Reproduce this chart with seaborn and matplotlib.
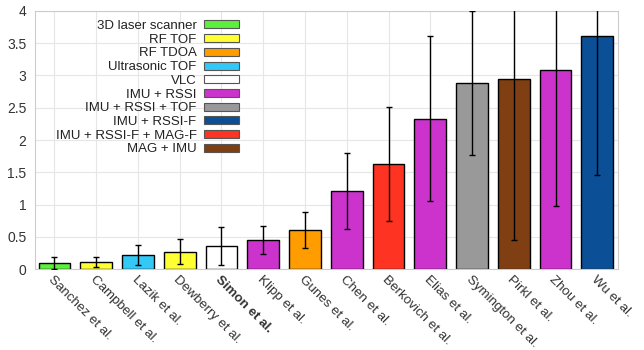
import matplotlib
matplotlib.use("Agg")
import matplotlib.pyplot as plt
import seaborn as sns
import pandas as pd

authors = ["Sanchez et al.", "Campbell et al.", "Lazik et al.", "Dewberry et al.",
           "Simon et al.", "Klipp et al.", "Gunes et al.", "Chen et al.",
           "Berkovich et al.", "Elias et al.", "Symington et al.", "Pirkl et al.",
           "Zhou et al.", "Wu et al."]
tech = ["3D laser scanner", "RF TOF", "Ultrasonic TOF", "RF TOF",
        "VLC", "IMU + RSSI", "RF TDOA", "IMU + RSSI",
        "IMU + RSSI-F + MAG-F", "IMU + RSSI", "IMU + RSSI + TOF", "MAG + IMU",
        "IMU + RSSI", "IMU + RSSI-F"]
error = [0.10, 0.11, 0.22, 0.27, 0.36, 0.45, 0.60, 1.21, 1.63, 2.33, 2.88, 2.94, 3.09, 3.61]
std = [0.09, 0.08, 0.16, 0.19, 0.30, 0.22, 0.28, 0.59, 0.88, 1.28, 1.11, 2.49, 2.11, 2.15]

tech_order = ["3D laser scanner", "RF TOF", "RF TDOA", "Ultrasonic TOF", "VLC",
              "IMU + RSSI", "IMU + RSSI + TOF", "IMU + RSSI-F",
              "IMU + RSSI-F + MAG-F", "MAG + IMU"]
tech_colors = ["#5cf03c", "#ffff33", "#ff9c00", "#33c8f5", "#ffffff",
               "#cc33cc", "#999999", "#0b4f96", "#ff3322", "#7f3f12"]

df = pd.DataFrame({"author": authors, "tech": tech, "error": error, "std": std})

sns.set_style("whitegrid")
plt.rcParams["font.family"] = ["Liberation Sans", "DejaVu Sans"]

fig = plt.figure(figsize=(6.44, 3.5), dpi=100)
ax = fig.add_axes([0.054, 0.231, 0.906, 0.738])

sns.barplot(data=df, x="author", y="error", hue="tech", hue_order=tech_order,
            palette=dict(zip(tech_order, tech_colors)), dodge=False, width=0.76,
            saturation=1, edgecolor="black", linewidth=1.0, ax=ax)
ax.errorbar(range(len(authors)), error, yerr=std, fmt="none", ecolor="black",
            elinewidth=1.0, capsize=2.5, capthick=1.0, zorder=5)

ax.set_xlim(-0.47, 13.5)
ax.set_ylim(0, 4)
ax.set_yticks([0, 0.5, 1, 1.5, 2, 2.5, 3, 3.5, 4])
ax.set_yticklabels(["0", "0.5", "1", "1.5", "2", "2.5", "3", "3.5", "4"])
ax.set_xlabel("")
ax.set_ylabel("")
ax.grid(True, color="#e6e6e6", linewidth=0.8)
ax.set_axisbelow(True)
for s in ax.spines.values():
    s.set_color("#cccccc")
    s.set_linewidth(0.8)
ax.tick_params(axis="y", labelsize=10, colors="#333333", length=0, pad=6)
ax.tick_params(axis="x", labelsize=9.6, colors="#333333", length=0, pad=3)
ax.set_xticks(range(len(authors)))
ax.set_xticklabels(authors, rotation=-45, ha="left", va="top",
                   rotation_mode="anchor")
for lbl in ax.get_xticklabels():
    if lbl.get_text() == "Simon et al.":
        lbl.set_fontweight("bold")

handles, labels = ax.get_legend_handles_labels()
leg = ax.legend(handles, labels, loc="upper left", bbox_to_anchor=(0.022, 0.995),
                markerfirst=False, frameon=False, fontsize=9.5,
                handlelength=2.6, handleheight=0.55, handletextpad=0.6,
                labelspacing=0.13, borderaxespad=0.2)
for t in leg.get_texts():
    t.set_ha("right")
    t.set_color("#222222")
leg._legend_box.align = "right"
for h in leg.legend_handles:
    h.set_edgecolor("#555555")
    h.set_linewidth(0.8)

fig.savefig("out.png", dpi=100)
